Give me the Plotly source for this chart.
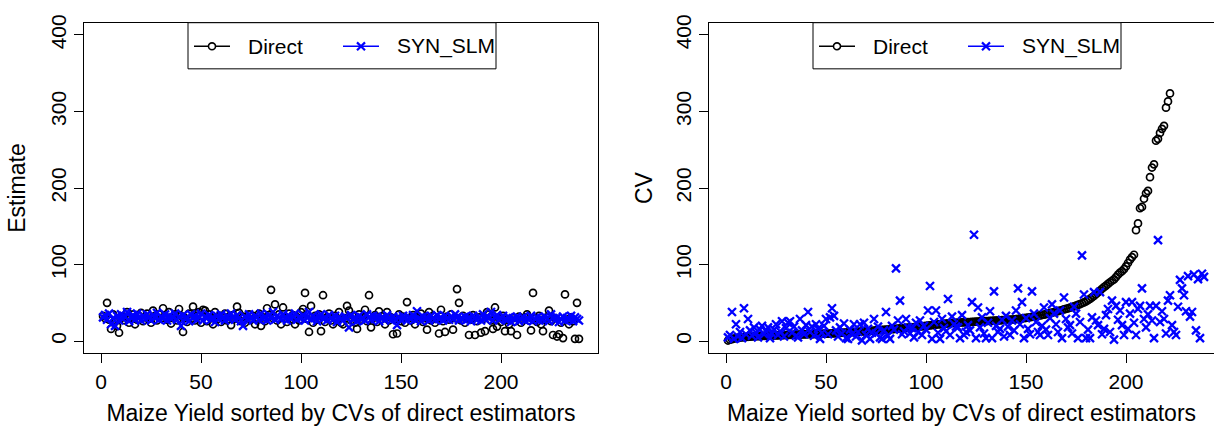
import plotly.graph_objects as go

# ---------------- data ----------------
direct_est = [
    33, 30, 50, 28, 16, 35, 25, 20, 11, 30,
    32, 27, 38, 24, 30, 35, 22, 28, 33, 37,
    26, 31, 36, 29, 24, 40, 33, 27, 35, 30,
    43, 33, 28, 38, 23, 30, 35, 27, 42, 33,
    12, 30, 25, 36, 29, 45, 27, 33, 38, 24,
    41, 40, 26, 35, 30, 22, 38, 28, 33, 25,
    31, 36, 27, 32, 21, 34, 29, 45, 37, 26,
    32, 24, 30, 35, 28, 33, 22, 29, 36, 20,
    31, 26, 43, 34, 67, 30, 48, 27, 35, 22,
    44, 30, 25, 36, 28, 34, 22, 31, 27, 38,
    42, 63, 29, 12, 46, 24, 33, 28, 35, 13,
    60, 25, 31, 36, 27, 22, 33, 29, 38, 24,
    22, 30, 46, 40, 27, 33, 24, 16, 35, 28,
    31, 41, 26, 60, 18, 30, 34, 25, 39, 28,
    33, 22, 38, 27, 31, 9, 29, 10, 35, 26,
    32, 24, 51, 30, 27, 34, 22, 31, 28, 36,
    25, 30, 15, 38, 27, 33, 24, 29, 10, 41,
    26, 12, 32, 28, 35, 15, 30, 68, 50, 27,
    33, 24, 30, 8, 28, 34, 8, 26, 31, 11,
    29, 13, 38, 35, 27, 16, 44, 19, 30, 25,
    33, 13, 28, 22, 13, 30, 26, 8, 32, 24,
    29, 31, 35, 27, 14, 63, 30, 25, 33, 22,
    13, 28, 31, 40, 26, 8, 30, 6, 9, 24,
    4, 61, 28, 22, 31, 26, 3, 50, 3,
]

syn_est = [
    31, 34, 28, 36, 22, 30, 20, 33, 27, 35,
    29, 32, 38, 26, 31, 34, 28, 36, 30, 27,
    33, 29, 35, 31, 27, 34, 30, 37, 28, 32,
    30, 35, 27, 33, 29, 31, 36, 28, 32, 20,
    34, 29, 31, 26, 35, 30, 33, 28, 31, 36,
    27, 32, 30, 34, 28, 31, 25, 33, 29, 35,
    30, 27, 33, 29, 36, 31, 28, 34, 30, 26,
    20, 32, 29, 35, 30, 27, 33, 31, 28, 36,
    29, 32, 27, 34, 30, 38, 28, 33, 31, 29,
    35, 30, 27, 33, 29, 32, 36, 28, 31, 30,
    34, 27, 31, 38, 29, 33, 30, 26, 32, 35,
    29, 31, 27, 34, 30, 28, 33, 25, 31, 29,
    27, 32, 30, 18, 34, 28, 31, 26, 33, 29,
    30, 27, 35, 31, 28, 33, 29, 32, 26, 30,
    31, 28, 34, 30, 27, 32, 29, 21, 31, 28,
    33, 30, 27, 31, 29, 34, 28, 39, 30, 26,
    32, 29, 31, 27, 33, 30, 28, 34, 29, 31,
    27, 33, 30, 28, 32, 29, 35, 31, 27, 30,
    29, 32, 28, 31, 26, 33, 30, 28, 31, 27,
    35, 29, 32, 30, 38, 27, 31, 34, 28, 30,
    33, 29, 27, 31, 25, 30, 28, 32, 26, 29,
    31, 27, 30, 28, 33, 26, 29, 31, 27, 30,
    28, 32, 29, 26, 35, 30, 27, 31, 25, 29,
    32, 27, 30, 28, 33, 26, 31, 29, 27,
]

# CVs of the direct estimator (sorted); the remaining areas lie above the y-limit
direct_cv = [
    0.8, 1.9, 2.7, 3.4, 3.9, 4.3, 4.7, 5.0, 5.3, 5.5,
    5.7, 5.9, 6.1, 6.2, 6.4, 6.5, 6.6, 6.8, 6.9, 7.0,
    7.1, 7.2, 7.3, 7.4, 7.5, 7.6, 7.7, 7.8, 7.9, 8.0,
    8.1, 8.2, 8.3, 8.3, 8.4, 8.5, 8.6, 8.7, 8.8, 8.9,
    9.0, 9.0, 9.1, 9.2, 9.3, 9.4, 9.5, 9.6, 9.7, 9.8,
    9.9, 10.0, 10.1, 10.2, 10.4, 10.5, 10.7, 10.9, 11.0, 11.2,
    11.4, 11.5, 11.7, 11.9, 12.0, 12.2, 12.4, 12.6, 12.8, 13.0,
    13.2, 13.4, 13.6, 13.8, 14.0, 14.2, 14.4, 14.6, 14.8, 15.0,
    15.2, 15.4, 15.6, 15.8, 16.0, 16.3, 16.6, 16.8, 17.1, 17.3,
    17.6, 17.8, 18.1, 18.3, 18.6, 18.9, 19.1, 19.4, 19.7, 20.0,
    20.3, 20.6, 20.9, 21.2, 21.5, 21.8, 22.0, 22.3, 22.6, 22.9,
    23.1, 23.4, 23.6, 23.8, 24.0, 24.2, 24.3, 24.5, 24.6, 24.8,
    24.9, 25.0, 25.2, 25.3, 25.4, 25.6, 25.7, 25.8, 26.0, 26.1,
    26.3, 26.4, 26.6, 26.7, 26.9, 27.1, 27.2, 27.4, 27.6, 27.8,
    27.9, 28.1, 28.3, 28.5, 28.7, 29.0, 29.3, 29.6, 30.0, 30.4,
    30.8, 31.2, 31.6, 32.1, 32.6, 33.1, 33.6, 34.1, 34.7, 35.3,
    35.9, 36.5, 37.2, 37.9, 38.6, 39.3, 40.0, 40.7, 41.4, 42.1,
    42.9, 43.7, 44.6, 45.5, 46.4, 47.4, 48.4, 49.5, 50.6, 52.0,
    53.6, 55.3, 57.2, 59.2, 61.3, 63.6, 66.0, 68.4, 70.5, 72.6,
    74.8, 76.9, 78.9, 80.6, 83.7, 86.8, 89.5, 91.4, 94.0, 97.6,
    102.1, 106.4, 109.8, 112.9, 145.0, 153.8, 173.6, 175.4, 186.0, 193.1,
    196.3, 214.2, 226.8, 231.0, 261.9, 264.3, 272.0, 277.4, 281.3, 305.0,
    313.2, 323.6,
]

syn_cv = [
    5, 8, 38, 3, 22, 6, 12, 4, 43, 9,
    29, 14, 7, 18, 11, 5, 15, 20, 9, 13,
    18, 4, 10, 15, 22, 8, 13, 26, 6, 17,
    24, 26, 11, 19, 7, 5, 29, 14, 9, 21,
    38, 12, 19, 7, 22, 16, 3, 11, 20, 29,
    9, 31, 43, 33, 14, 6, 18, 10, 23, 4,
    3, 15, 9, 22, 6, 12, 22, 1, 24, 8,
    16, 3, 11, 29, 10, 19, 5, 3, 14, 38,
    7, 3, 20, 15, 95, 27, 53, 9, 13, 29,
    18, 10, 17, 5, 24, 12, 27, 8, 20, 15,
    40, 72, 3, 25, 40, 11, 3, 29, 17, 13,
    55, 8, 32, 22, 19, 18, 4, 34, 8, 12,
    21, 14, 51, 139, 4, 44, 18, 31, 10, 4,
    24, 39, 4, 65, 20, 12, 16, 28, 6, 33,
    19, 8, 27, 14, 40, 69, 22, 51, 4, 30,
    16, 9, 65, 36, 25, 12, 8, 20, 44, 15,
    8, 30, 48, 36, 22, 12, 40, 4, 57, 29,
    18, 21, 10, 45, 36, 4, 25, 112, 61, 4,
    15, 4, 31, 64, 27, 21, 64, 9, 16, 34,
    42, 12, 53, 2, 46, 28, 40, 21, 8, 51,
    16, 36, 51, 24, 8, 42, 46, 69, 29, 18,
    35, 46, 27, 4, 46, 132, 25, 39, 29, 10,
    53, 60, 21, 12, 8, 45, 80, 69, 60, 39,
    85, 32, 38, 87, 14, 81, 4, 88, 84,
]

x_ticks = [0, 50, 100, 150, 200]
y_ticks = [0, 100, 200, 300, 400]
x_title = "Maize Yield sorted by CVs of direct estimators"
legend_labels = ["Direct", "SYN_SLM"]

# ---------------- layout helpers ----------------
W, H = 1214, 426
FONT = "Liberation Sans, Arial, sans-serif"
FS = 21
FS_T = 23
BLUE = "#0000FF"


def fx(p):
    return p / W


def fy(p):
    return 1 - p / H


idx_all = list(range(1, len(direct_est) + 1))
idx_cv = list(range(1, len(direct_cv) + 1))
idx_syn_cv = list(range(1, len(syn_cv) + 1))

circ = dict(symbol="circle-open", size=7, color="black", line=dict(width=1.7, color="black"))
cross = dict(symbol="x-thin-open", size=8, color=BLUE, line=dict(width=2.3, color=BLUE))

fig = go.Figure()
fig.add_trace(go.Scatter(x=idx_all, y=direct_est, mode="markers", marker=circ,
                         name=legend_labels[0], showlegend=False, xaxis="x", yaxis="y"))
fig.add_trace(go.Scatter(x=idx_all, y=syn_est, mode="markers", marker=cross,
                         name=legend_labels[1], showlegend=False, xaxis="x", yaxis="y"))
fig.add_trace(go.Scatter(x=idx_cv, y=direct_cv, mode="markers", marker=circ,
                         name=legend_labels[0], showlegend=False, xaxis="x2", yaxis="y2"))
fig.add_trace(go.Scatter(x=idx_syn_cv, y=syn_cv, mode="markers", marker=cross,
                         name=legend_labels[1], showlegend=False, xaxis="x2", yaxis="y2"))

axis_common = dict(
    showgrid=False, zeroline=False, showline=True, linecolor="black", linewidth=1,
    ticks="outside", ticklen=9, tickwidth=1, tickcolor="black",
    tickfont=dict(family=FONT, size=FS, color="black"),
)

ydom = [fy(352), fy(15)]
fig.update_layout(
    width=W, height=H,
    margin=dict(l=0, r=0, t=0, b=0),
    paper_bgcolor="white", plot_bgcolor="white",
    font=dict(family=FONT, size=FS, color="black"),
    showlegend=False,
    xaxis=dict(domain=[fx(84), fx(598)], range=[-8.52, 248.5], tickvals=x_ticks,
               mirror=True, anchor="y",
               title=dict(text=x_title, standoff=13, font=dict(family=FONT, size=FS_T)),
               **axis_common),
    yaxis=dict(domain=ydom, range=[-16, 416], tickvals=y_ticks, tickangle=-90,
               mirror=True, anchor="x",
               title=dict(text="Estimate", standoff=14, font=dict(family=FONT, size=FS_T)),
               **axis_common),
    xaxis2=dict(domain=[fx(709), 1.0], range=[-8.5, 244.0], tickvals=x_ticks,
                mirror=True, anchor="y2",
                title=dict(text=x_title, standoff=13, font=dict(family=FONT, size=FS_T)),
                **axis_common),
    yaxis2=dict(domain=ydom, range=[-16, 416], tickvals=y_ticks, tickangle=-90,
                mirror=False, anchor="x2",
                title=dict(text="CV", standoff=12, font=dict(family=FONT, size=FS_T)),
                **axis_common),
)

# ---------------- legends (one per panel) ----------------
shapes = []
annotations = []
for off in (0, 625):
    bx0, bx1, by0, by1 = 188 + off, 496 + off, 15, 62
    cy = 39
    shapes.append(dict(type="rect", xref="paper", yref="paper",
                       x0=fx(bx0), x1=fx(bx1), y0=fy(by1), y1=fy(by0),
                       line=dict(color="black", width=1), fillcolor="white", layer="above"))
    # Direct: line + open circle
    shapes.append(dict(type="line", xref="paper", yref="paper",
                       x0=fx(194 + off), x1=fx(230 + off), y0=fy(cy), y1=fy(cy),
                       line=dict(color="black", width=1.6), layer="above"))
    shapes.append(dict(type="circle", xref="paper", yref="paper",
                       x0=fx(208.5 + off), x1=fx(215.5 + off), y0=fy(cy + 3.5), y1=fy(cy - 3.5),
                       line=dict(color="black", width=1.6), fillcolor="white", layer="above"))
    # SYN_SLM: line + x
    shapes.append(dict(type="line", xref="paper", yref="paper",
                       x0=fx(343 + off), x1=fx(379 + off), y0=fy(cy), y1=fy(cy),
                       line=dict(color=BLUE, width=1.6), layer="above"))
    shapes.append(dict(type="line", xref="paper", yref="paper",
                       x0=fx(357 + off), x1=fx(365 + off), y0=fy(cy - 4), y1=fy(cy + 4),
                       line=dict(color=BLUE, width=2.2), layer="above"))
    shapes.append(dict(type="line", xref="paper", yref="paper",
                       x0=fx(357 + off), x1=fx(365 + off), y0=fy(cy + 4), y1=fy(cy - 4),
                       line=dict(color=BLUE, width=2.2), layer="above"))
    annotations.append(dict(text=legend_labels[0], xref="paper", yref="paper",
                            x=fx(246 + off), y=fy(cy), xanchor="left", yanchor="middle",
                            showarrow=False, font=dict(family=FONT, size=FS, color="black")))
    annotations.append(dict(text=legend_labels[1], xref="paper", yref="paper",
                            x=fx(395 + off), y=fy(cy), xanchor="left", yanchor="middle",
                            showarrow=False, font=dict(family=FONT, size=FS, color="black")))

fig.update_layout(shapes=shapes, annotations=annotations)

fig.write_html("out.html")
